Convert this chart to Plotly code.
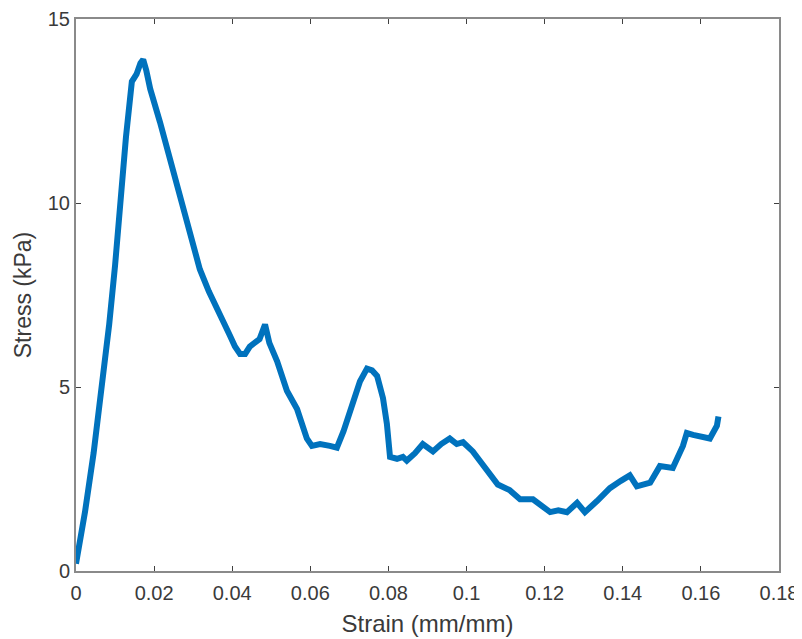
import plotly.graph_objects as go

strain = [0.0, 0.0012, 0.0023, 0.0045, 0.0065, 0.0085, 0.0100, 0.0113, 0.0128, 0.0143,
          0.0155, 0.0165, 0.0172, 0.0180, 0.0190, 0.0215, 0.0240, 0.0258, 0.0274, 0.0295,
          0.0317, 0.0340, 0.0360, 0.0376, 0.0394, 0.0407, 0.0420, 0.0433, 0.0445, 0.0457,
          0.0470, 0.0484, 0.0495, 0.0515, 0.0540, 0.0566, 0.0591, 0.0604, 0.0625, 0.0650,
          0.0668, 0.0685, 0.0701, 0.0727, 0.0745, 0.0758, 0.0771, 0.0786, 0.0796, 0.0804,
          0.0822, 0.0837, 0.0847, 0.0868, 0.0888, 0.0914, 0.0935, 0.0957, 0.0975, 0.0991,
          0.1016, 0.1042, 0.1060, 0.1080, 0.1110, 0.1137, 0.1170, 0.1196, 0.1214, 0.1235,
          0.1257, 0.1283, 0.1303, 0.1334, 0.1367, 0.1395, 0.1418, 0.1436, 0.1470, 0.1495,
          0.1528, 0.1554, 0.1564, 0.1580, 0.1598, 0.1623, 0.1641, 0.1645]
stress = [0.2, 0.9, 1.6, 3.2, 4.9, 6.7, 8.3, 10.0, 11.8, 13.3,
          13.5, 13.8, 13.9, 13.6, 13.1, 12.2, 11.2, 10.5, 9.9, 9.0,
          8.2, 7.6, 7.1, 6.8, 6.4, 6.1, 5.9, 5.9, 6.1, 6.2,
          6.3, 6.7, 6.2, 5.7, 4.9, 4.4, 3.6, 3.4, 3.45, 3.4,
          3.35, 3.8, 4.35, 5.15, 5.5, 5.45, 5.3, 4.7, 4.0, 3.1,
          3.05, 3.1, 3.0, 3.2, 3.45, 3.25, 3.45, 3.6, 3.45, 3.5,
          3.25, 2.9, 2.65, 2.35, 2.2, 1.95, 1.95, 1.75, 1.6, 1.65,
          1.6, 1.85, 1.6, 1.9, 2.25, 2.45, 2.6, 2.3, 2.4, 2.85,
          2.8, 3.4, 3.75, 3.7, 3.65, 3.6, 3.95, 4.2]

x_ticks = [0, 0.02, 0.04, 0.06, 0.08, 0.1, 0.12, 0.14, 0.16, 0.18]
x_labels = ["0", "0.02", "0.04", "0.06", "0.08", "0.1", "0.12", "0.14", "0.16", "0.18"]
y_ticks = [0, 5, 10, 15]
y_labels = ["0", "5", "10", "15"]

FONT = "Liberation Sans, Arial"
TXT = "#3a3a3a"

fig = go.Figure()
fig.add_trace(go.Scatter(x=strain, y=stress, mode="lines",
                         line=dict(color="#0072BD", width=6), showlegend=False))

axis_common = dict(showline=True, linecolor="#8a8a8a", linewidth=2, mirror="ticks",
                   ticks="inside", ticklen=5, tickwidth=1, tickcolor="#404040",
                   showgrid=False, zeroline=False, automargin=False,
                   ticklabeloverflow="allow",
                   tickfont=dict(family=FONT, size=20, color=TXT))

fig.update_xaxes(range=[0, 0.18], tickvals=x_ticks, ticktext=x_labels,
                 ticklabelstandoff=3,
                 title=dict(text="Strain (mm/mm)", standoff=12,
                            font=dict(family=FONT, size=24, color=TXT)),
                 **axis_common)
fig.update_yaxes(range=[0, 15], tickvals=y_ticks, ticktext=y_labels,
                 title=dict(text="Stress (kPa)", standoff=10,
                            font=dict(family=FONT, size=23, color=TXT)),
                 **axis_common)

fig.update_layout(width=794, height=631, plot_bgcolor="white", paper_bgcolor="white",
                  margin=dict(l=68, r=23, t=11, b=68))

fig.write_html("out.html")
